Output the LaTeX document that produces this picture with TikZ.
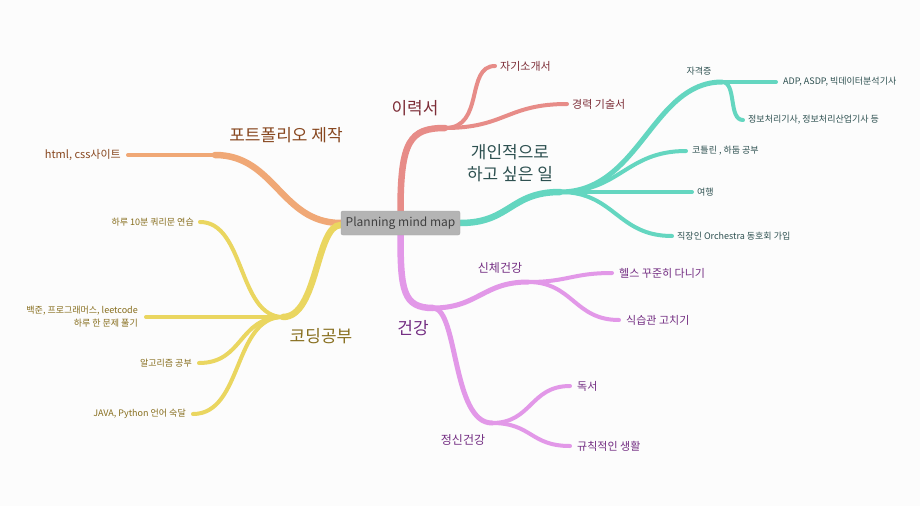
\documentclass[tikz,border=0pt]{standalone}
\usepackage{fontspec}
\setmainfont{Noto Sans CJK KR}
\usepackage{xcolor}
\usepackage{tikz}
\usetikzlibrary{positioning, backgrounds, calc}
\definecolor{pagebg}{RGB}{252,252,252}
\definecolor{rootgray}{RGB}{180,180,180}
\definecolor{resume}{RGB}{231,140,136}
\definecolor{wish}{RGB}{100,214,192}
\definecolor{folio}{RGB}{240,168,118}
\definecolor{study}{RGB}{234,214,96}
\definecolor{health}{RGB}{226,152,232}
\definecolor{resumetext}{RGB}{125,45,55}
\definecolor{wishtext}{RGB}{45,80,80}
\definecolor{foliotext}{RGB}{135,70,30}
\definecolor{studytext}{RGB}{135,110,30}
\definecolor{healthtext}{RGB}{115,45,130}

\begin{document}
\begin{tikzpicture}[
  x=1pt, y=-1pt,
  rootbox/.style={rectangle, draw=gray!70, fill=rootgray, rounded corners=2pt,
                  minimum width=119pt, minimum height=24pt, inner sep=0pt,
                  font=\fontsize{12}{14}\selectfont, text=black!75},
  topic/.style={inner sep=0pt, font=\fontsize{17}{22}\selectfont, align=center},
  subtopic/.style={inner sep=0pt, font=\fontsize{12}{14}\selectfont},
  leaftext/.style={inner sep=0pt, font=\fontsize{11}{13}\selectfont},
  smalltext/.style={inner sep=0pt, font=\fontsize{9}{13}\selectfont},
  trunk/.style={line width=6.5pt, line cap=round},
  twig/.style={line width=5pt, line cap=round},
  leaf/.style={line width=4pt, line cap=round},
]
  \begin{scope}[on background layer]
    \fill[pagebg] (0,0) rectangle (920,506);
  \end{scope}
  \useasboundingbox (0,0) rectangle (920,506);

  % centre
  \node[rootbox] (root) at (400.5,223) {Planning mind map};

  % junctions and leaf ends
  \coordinate (cvJ) at (445,128);
  \coordinate (introE) at (495,66);
  \coordinate (careerE) at (567,104);

  \coordinate (wishJ) at (560,192);
  \coordinate (certJ) at (722,82);
  \coordinate (adpE) at (776,82);
  \coordinate (infoE) at (743,120);
  \coordinate (kotlinE) at (686,151);
  \coordinate (tripE) at (692,192);
  \coordinate (orchE) at (672,236);

  \coordinate (folioJ) at (215,155);
  \coordinate (htmlE) at (128,155);

  \coordinate (studyJ) at (283,317);
  \coordinate (queryE) at (200,222);
  \coordinate (bojE) at (146,317);
  \coordinate (algoE) at (199,363);
  \coordinate (javaE) at (193,414);

  \coordinate (healthJ) at (433,308);
  \coordinate (bodyJ) at (528,282);
  \coordinate (gymE) at (612,273);
  \coordinate (dietE) at (619,320);
  \coordinate (mindJ) at (492,423);
  \coordinate (readE) at (570,386);
  \coordinate (routineE) at (570,446);

  \begin{scope}[on background layer]
    % 이력서
    \draw[trunk, resume] (root.north) .. controls +(0,-70) and +(-35,0) .. (cvJ);
    \draw[leaf, resume] (cvJ) .. controls +(40,0) and +(-30,0) .. (introE);
    \draw[leaf, resume] (cvJ) .. controls +(60,0) and +(-60,0) .. (careerE);
    % 개인적으로 하고 싶은 일
    \draw[trunk, wish] (root.east) .. controls +(50,0) and +(-50,0) .. (wishJ);
    \draw[twig, wish] (wishJ) .. controls +(80,0) and +(-70,0) .. (certJ);
    \draw[leaf, wish] (certJ) -- (adpE);
    \draw[leaf, wish] (certJ) .. controls +(15,0) and +(-15,0) .. (infoE);
    \draw[leaf, wish] (wishJ) .. controls +(60,0) and +(-60,0) .. (kotlinE);
    \draw[leaf, wish] (wishJ) -- (tripE);
    \draw[leaf, wish] (wishJ) .. controls +(55,0) and +(-55,0) .. (orchE);
    % 포트폴리오 제작
    \draw[trunk, folio] (root.west) .. controls +(-60,0) and +(60,0) .. (folioJ);
    \draw[leaf, folio] (folioJ) -- (htmlE);
    % 코딩공부
    \draw[trunk, study] ($(root.west)+(0,2)$) .. controls +(-25,0) and +(35,0) .. (studyJ);
    \draw[leaf, study] (studyJ) .. controls +(-45,0) and +(45,0) .. (queryE);
    \draw[leaf, study] (studyJ) -- (bojE);
    \draw[leaf, study] (studyJ) .. controls +(-45,0) and +(45,0) .. (algoE);
    \draw[leaf, study] (studyJ) .. controls +(-50,0) and +(50,0) .. (javaE);
    % 건강
    \draw[trunk, health] (root.south) .. controls +(0,55) and +(-30,0) .. (healthJ);
    \draw[twig, health] (healthJ) .. controls +(45,0) and +(-45,0) .. (bodyJ);
    \draw[leaf, health] (bodyJ) .. controls +(40,0) and +(-40,0) .. (gymE);
    \draw[leaf, health] (bodyJ) .. controls +(45,0) and +(-45,0) .. (dietE);
    \draw[twig, health] (healthJ) .. controls +(25,0) and +(-40,0) .. (mindJ);
    \draw[leaf, health] (mindJ) .. controls +(40,0) and +(-40,0) .. (readE);
    \draw[leaf, health] (mindJ) .. controls +(40,0) and +(-40,0) .. (routineE);
  \end{scope}

  % labels
  \node[topic, text=resumetext] (cvL) at (415,108) {이력서};
  \node[leaftext, text=resumetext, right=5pt of introE] (introL) {자기소개서};
  \node[leaftext, text=resumetext, right=5pt of careerE] (careerL) {경력 기술서};

  \node[topic, text=wishtext] (wishL) at (510,163) {개인적으로\\하고 싶은 일};
  \node[smalltext, text=wishtext] (certL) at (699,71) {자격증};
  \node[smalltext, text=wishtext, right=7pt of adpE] (adpL) {ADP, ASDP, 빅데이터분석기사};
  \node[smalltext, text=wishtext, right=5pt of infoE] (infoL) {정보처리기사, 정보처리산업기사 등};
  \node[smalltext, text=wishtext, right=6pt of kotlinE] (kotlinL) {코틀린 , 하둡 공부};
  \node[smalltext, text=wishtext, right=5pt of tripE] (tripL) {여행};
  \node[smalltext, text=wishtext, right=5pt of orchE] (orchL) {직장인 Orchestra 동호회 가입};

  \node[topic, text=foliotext] (folioL) at (286,135) {포트폴리오 제작};
  \node[leaftext, text=foliotext, left=7pt of htmlE] (htmlL) {html, css사이트};

  \node[topic, text=studytext] (studyL) at (321,336) {코딩공부};
  \node[smalltext, text=studytext, left=6pt of queryE] (queryL) {하루 10분 쿼리문 연습};
  \node[smalltext, text=studytext, left=8pt of bojE, align=right] (bojL) {백준, 프로그래머스, leetcode\\하루 한 문제 풀기};
  \node[smalltext, text=studytext, left=7pt of algoE] (algoL) {알고리즘 공부};
  \node[smalltext, text=studytext, left=7pt of javaE] (javaL) {JAVA, Python 언어 숙달};

  \node[topic, text=healthtext] (healthL) at (413,328) {건강};
  \node[subtopic, text=healthtext] (bodyL) at (500,268) {신체건강};
  \node[leaftext, text=healthtext, right=7pt of gymE] (gymL) {헬스 꾸준히 다니기};
  \node[leaftext, text=healthtext, right=7pt of dietE] (dietL) {식습관 고치기};
  \node[subtopic, text=healthtext] (mindL) at (463,440) {정신건강};
  \node[leaftext, text=healthtext, right=7pt of readE] (readL) {독서};
  \node[leaftext, text=healthtext, right=7pt of routineE] (routineL) {규칙적인 생활};
\end{tikzpicture}
\end{document}
